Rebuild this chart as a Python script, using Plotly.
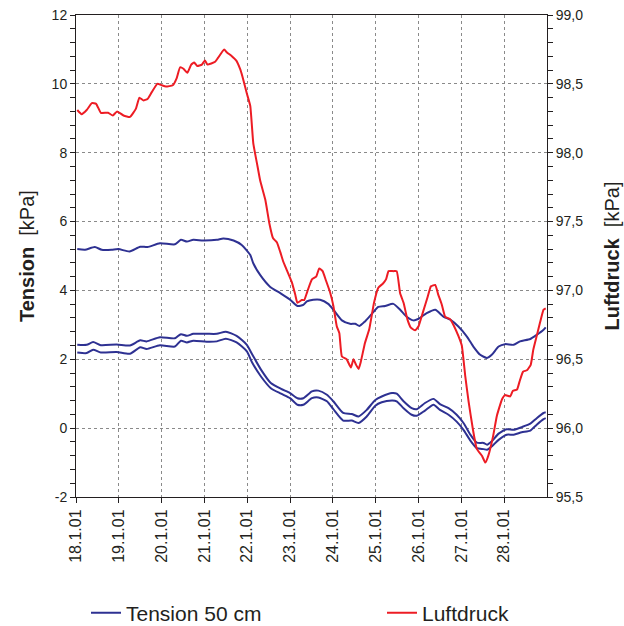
import pandas as pd
import plotly.graph_objects as go

START = pd.Timestamp("2001-01-18")

# Luftdruck [kPa] – time in days after 18.1.01 00:00
luft_tage = [0.03, 0.13, 0.25, 0.37, 0.47, 0.58, 0.75, 0.86, 0.96, 1.11, 1.26, 1.40, 1.48, 1.57,
             1.67, 1.77, 1.90, 2.00, 2.10, 2.26, 2.35, 2.43, 2.51, 2.60, 2.69, 2.76, 2.83, 2.94,
             3.01, 3.07, 3.25, 3.32, 3.46, 3.52, 3.64, 3.74, 3.83, 3.89, 3.99, 4.07, 4.14, 4.24,
             4.30, 4.42, 4.52, 4.60, 4.69, 4.77, 4.84, 4.92, 5.04, 5.12, 5.17, 5.27, 5.33, 5.40,
             5.51, 5.61, 5.68, 5.76, 5.84, 5.93, 6.01, 6.09, 6.15, 6.21, 6.32, 6.42, 6.48, 6.54,
             6.60, 6.65, 6.75, 6.85, 6.96, 7.06, 7.17, 7.24, 7.30, 7.41, 7.49, 7.57, 7.65, 7.74,
             7.82, 7.92, 8.00, 8.11, 8.21, 8.29, 8.39, 8.46, 8.54, 8.62, 8.74, 8.83, 8.93, 9.01,
             9.09, 9.17, 9.27, 9.36, 9.48, 9.56, 9.63, 9.74, 9.83, 9.95, 10.02, 10.14, 10.20,
             10.30, 10.36, 10.44, 10.53, 10.62, 10.68, 10.76, 10.84, 10.92, 10.97]
luftdruck = [98.31, 98.28, 98.31, 98.36, 98.355, 98.29, 98.29, 98.27, 98.30, 98.27, 98.26, 98.32,
             98.40, 98.38, 98.39, 98.44, 98.50, 98.49, 98.48, 98.49, 98.54, 98.62, 98.61, 98.58,
             98.64, 98.655, 98.63, 98.64, 98.67, 98.64, 98.66, 98.69, 98.75, 98.73, 98.70, 98.67,
             98.61, 98.55, 98.43, 98.34, 98.07, 97.90, 97.80, 97.66, 97.48, 97.38, 97.35, 97.28,
             97.21, 97.15, 97.06, 96.97, 96.91, 96.93, 96.93, 96.99, 97.08, 97.10, 97.16, 97.14,
             97.07, 96.99, 96.89, 96.74, 96.69, 96.52, 96.50, 96.44, 96.50, 96.46, 96.43, 96.48,
             96.62, 96.72, 96.91, 97.02, 97.05, 97.08, 97.14, 97.14, 97.14, 96.98, 96.91, 96.79,
             96.73, 96.71, 96.74, 96.85, 96.95, 97.03, 97.04, 96.97, 96.90, 96.81, 96.79, 96.74,
             96.67, 96.60, 96.38, 96.19, 95.99, 95.85, 95.80, 95.75, 95.80, 95.94, 96.09, 96.21,
             96.24, 96.23, 96.27, 96.28, 96.34, 96.41, 96.42, 96.46, 96.57, 96.67, 96.77, 96.86,
             96.87]

# Tension 50 cm [kPa] – three tensiometers
t1_tage = [0.03, 0.21, 0.44, 0.60, 0.83, 0.99, 1.25, 1.50, 1.67, 1.96, 2.31, 2.45, 2.59, 2.74,
           2.97, 3.29, 3.44, 3.68, 3.87, 4.07, 4.14, 4.30, 4.53, 4.77, 5.00, 5.17, 5.31, 5.39,
           5.54, 5.70, 5.89, 6.01, 6.21, 6.40, 6.52, 6.62, 6.75, 6.91, 7.06, 7.22, 7.41, 7.57,
           7.73, 7.88, 7.99, 8.19, 8.39, 8.58, 8.74, 8.93, 9.13, 9.28, 9.44, 9.60, 9.71, 9.87,
           10.02, 10.22, 10.37, 10.61, 10.76, 10.92, 10.97]
tension_1 = [5.20, 5.18, 5.26, 5.18, 5.18, 5.20, 5.13, 5.27, 5.26, 5.37, 5.34, 5.47, 5.42, 5.47,
             5.45, 5.47, 5.51, 5.45, 5.32, 5.03, 4.79, 4.45, 4.11, 3.92, 3.73, 3.55, 3.58, 3.68,
             3.73, 3.73, 3.61, 3.44, 3.13, 3.03, 3.03, 2.97, 3.10, 3.32, 3.52, 3.55, 3.61, 3.44,
             3.23, 3.13, 3.17, 3.34, 3.44, 3.24, 3.15, 2.95, 2.66, 2.37, 2.13, 2.04, 2.13, 2.37,
             2.44, 2.42, 2.52, 2.59, 2.71, 2.86, 2.93]

t23_tage = [0.03, 0.25, 0.40, 0.58, 0.95, 1.26, 1.50, 1.65, 1.96, 2.31, 2.45, 2.59, 2.74, 3.05,
            3.29, 3.50, 3.75, 3.99, 4.12, 4.32, 4.55, 4.79, 5.00, 5.17, 5.31, 5.51, 5.66, 5.86,
            6.01, 6.24, 6.44, 6.60, 6.79, 6.99, 7.14, 7.38, 7.49, 7.65, 7.84, 7.96, 8.15, 8.35,
            8.50, 8.70, 8.89, 9.05, 9.21, 9.36, 9.52, 9.60, 9.71, 9.87, 10.06, 10.22, 10.41,
            10.61, 10.76, 10.92, 10.97]
tension_2 = [2.42, 2.42, 2.50, 2.41, 2.43, 2.40, 2.55, 2.52, 2.64, 2.61, 2.73, 2.68, 2.74, 2.74,
             2.74, 2.80, 2.68, 2.42, 2.13, 1.70, 1.31, 1.14, 1.02, 0.87, 0.87, 1.07, 1.09, 0.97,
             0.78, 0.44, 0.41, 0.34, 0.53, 0.82, 0.92, 1.02, 1.00, 0.78, 0.58, 0.55, 0.73, 0.85,
             0.70, 0.58, 0.39, 0.15, -0.19, -0.42, -0.43, -0.48, -0.38, -0.16, -0.03, -0.05, 0.03,
             0.13, 0.29, 0.44, 0.46]
tension_3 = [2.20, 2.18, 2.28, 2.20, 2.21, 2.16, 2.35, 2.30, 2.41, 2.37, 2.54, 2.49, 2.54, 2.51,
             2.52, 2.60, 2.49, 2.23, 1.89, 1.50, 1.16, 1.00, 0.87, 0.68, 0.68, 0.87, 0.89, 0.78,
             0.55, 0.22, 0.22, 0.15, 0.34, 0.65, 0.75, 0.80, 0.78, 0.58, 0.39, 0.36, 0.51, 0.68,
             0.53, 0.39, 0.19, -0.05, -0.36, -0.58, -0.61, -0.63, -0.53, -0.34, -0.19, -0.19,
             -0.12, -0.07, 0.10, 0.26, 0.29]

tension_ticks = [-2, 0, 2, 4, 6, 8, 10, 12]
tension_ticktext = ["-2", "0", "2", "4", "6", "8", "10", "12"]
luft_ticks = [95.5, 96.0, 96.5, 97.0, 97.5, 98.0, 98.5, 99.0]
luft_ticktext = ["95,5", "96,0", "96,5", "97,0", "97,5", "98,0", "98,5", "99,0"]
datum_ticks = pd.date_range("2001-01-18", "2001-01-28", freq="D")
datum_ticktext = [f"{d.day}.{d.month}.01" for d in datum_ticks]

BLUE = "#2E3192"
RED = "#ED1C24"
INK = "#231F20"
GRID = "#8A8A8A"
FONT = "Liberation Sans, Arial, sans-serif"


def zeit(tage):
    return START + pd.to_timedelta(tage, unit="D")


fig = go.Figure()

for i, (tage, werte) in enumerate([(t1_tage, tension_1), (t23_tage, tension_2), (t23_tage, tension_3)]):
    fig.add_trace(go.Scatter(
        x=zeit(tage), y=werte, mode="lines", name="Tension 50 cm",
        line=dict(color=BLUE, width=2, shape="spline", smoothing=0.6),
        showlegend=(i == 0), legend="legend", yaxis="y"))

fig.add_trace(go.Scatter(
    x=zeit(luft_tage), y=luftdruck, mode="lines", name="Luftdruck",
    line=dict(color=RED, width=2, shape="spline", smoothing=0.4),
    legend="legend2", yaxis="y2"))

minor_t = [round(-2 + 0.4 * k, 2) for k in range(36)]
minor_l = [round(95.5 + 0.1 * k, 2) for k in range(36)]

legend_style = dict(
    orientation="h", xref="container", yref="container", yanchor="middle",
    xanchor="left", itemwidth=30, font=dict(size=21, family=FONT, color=INK),
    bgcolor="rgba(0,0,0,0)", borderwidth=0)

fig.update_layout(
    width=624, height=626,
    margin=dict(l=76, r=77, t=15, b=129, autoexpand=False),
    paper_bgcolor="white", plot_bgcolor="white",
    font=dict(family=FONT, color=INK, size=14),
    xaxis=dict(
        type="date", automargin=False,
        range=[START, START + pd.Timedelta(days=11)],
        tickmode="array", tickvals=datum_ticks, ticktext=datum_ticktext,
        tickangle=-90, tickfont=dict(size=16),
        ticks="outside", ticklen=5, tickcolor=INK,
        showline=True, linecolor=INK, linewidth=1, mirror=True,
        showgrid=True, gridcolor=GRID, griddash="dot", gridwidth=1,
        zeroline=False),
    yaxis=dict(
        range=[-2, 12], automargin=False,
        tickmode="array", tickvals=tension_ticks, ticktext=tension_ticktext,
        tickfont=dict(size=14),
        ticks="outside", ticklen=5, tickcolor=INK,
        minor=dict(tickmode="array", tickvals=minor_t, ticks="outside", ticklen=5,
                   tickcolor=INK, showgrid=False),
        showline=True, linecolor=INK, linewidth=1,
        showgrid=True, gridcolor=GRID, griddash="dot", gridwidth=1,
        zeroline=False),
    yaxis2=dict(
        range=[95.5, 99.0], overlaying="y", side="right", automargin=False,
        tickmode="array", tickvals=luft_ticks, ticktext=luft_ticktext,
        tickfont=dict(size=14),
        ticks="outside", ticklen=5, tickcolor=INK,
        minor=dict(tickmode="array", tickvals=minor_l, ticks="outside", ticklen=5,
                   tickcolor=INK, showgrid=False),
        showline=True, linecolor=INK, linewidth=1,
        showgrid=False, zeroline=False),
    legend=dict(x=86 / 624, y=13 / 626, **legend_style),
    legend2=dict(x=382 / 624, y=13 / 626, **legend_style),
    annotations=[
        dict(text="<b>Tension</b>&nbsp;&nbsp;[kPa]", xref="paper", yref="paper",
             x=-0.104, y=0.5, xanchor="center", yanchor="middle", textangle=-90,
             showarrow=False, font=dict(size=20, family=FONT, color=INK)),
        dict(text="<b>Luftdruck</b>&nbsp;&nbsp;[kPa]", xref="paper", yref="paper",
             x=1.139, y=0.5, xanchor="center", yanchor="middle", textangle=-90,
             showarrow=False, font=dict(size=20, family=FONT, color=INK)),
    ],
)

fig.write_html("out.html")
